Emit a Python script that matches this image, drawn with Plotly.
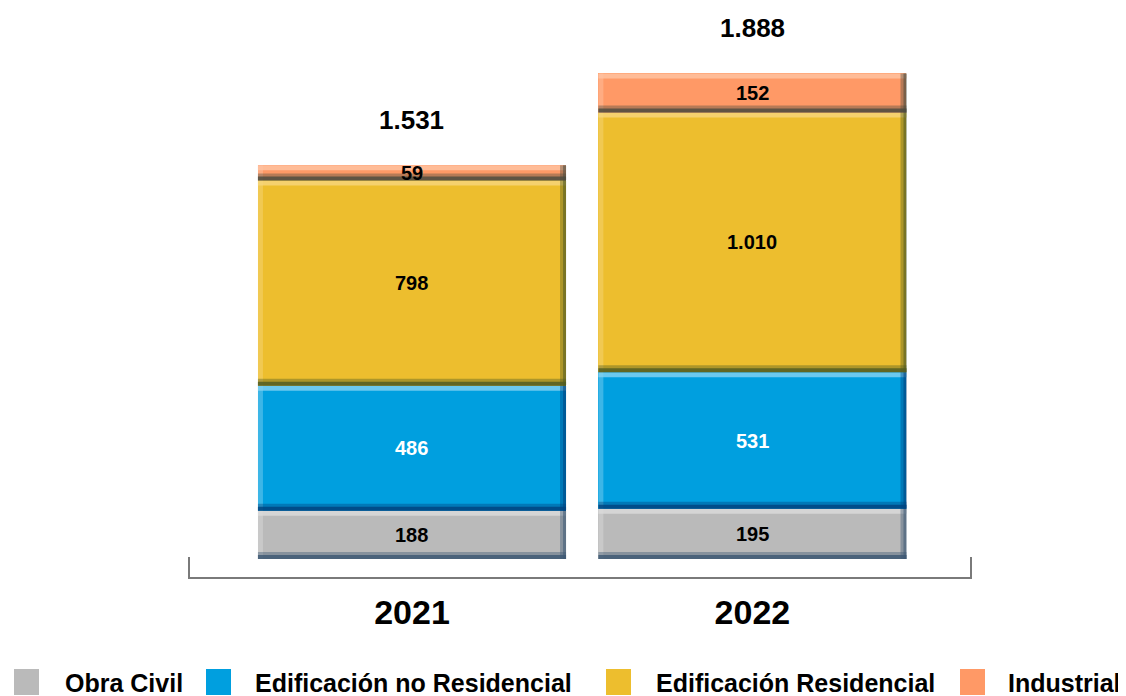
import plotly.graph_objects as go

# ---- data ----
years = ["2021", "2022"]
series_names = ["Obra Civil", "Edificación no Residencial", "Edificación Residencial", "Industrial"]
obra_civil = [188, 195]
edif_no_res = [486, 531]
edif_res = [798, 1010]
industrial = [59, 152]
totals = [1531, 1888]

series_values = [obra_civil, edif_no_res, edif_res, industrial]
colors = ["#BABABA", "#009FDF", "#EDBE2E", "#FF9966"]
light = ["#DCDCDC", "#86D3F2", "#F6D67E", "#FFC4A4"]
dark = ["#3C5873", "#00427E", "#4E5A22", "#4A4A3E"]
text_colors = ["#000000", "#FFFFFF", "#000000", "#000000"]

FONT = "Arial, Liberation Sans, sans-serif"


def fmt(v):
    return f"{v:,}".replace(",", ".")


OFF = 8  # page body margin
W, H = 1126 - OFF, 696 - OFF
L, T = 189 - OFF, 20 - OFF
R = W - (971 - OFF)
B = H - (559 - OFF)
PW, PH = W - L - R, H - T - B
BAR_W = 0.905


def xp(px):
    return (px - OFF - L) / PW


def yp(py):
    return (H - B - (py - OFF)) / PH


fig = go.Figure()
for name, vals, c in zip(series_names, series_values, colors):
    fig.add_trace(go.Bar(
        x=years, y=vals, name=name, marker=dict(color=c, line=dict(width=0)),
        hoverinfo="skip", showlegend=False,
    ))

shapes = []
annotations = []
# bevel decoration and value labels for each segment, anchored on data values
for i in range(len(years)):
    base = 0
    for s, vals in enumerate(series_values):
        top = base + vals[i]
        xl, xr = i - BAR_W / 2, i + BAR_W / 2
        shapes.append(dict(type="rect", xref="x", yref="y", x0=xl, x1=xr,
                           ysizemode="pixel", yanchor=top, y0=0, y1=-5,
                           fillcolor=light[s], opacity=0.8, line=dict(width=0), layer="above"))
        shapes.append(dict(type="rect", xref="x", yref="y", xsizemode="pixel", xanchor=xl,
                           x0=0, x1=5, y0=base, y1=top,
                           fillcolor=light[s], opacity=0.45, line=dict(width=0), layer="above"))
        shapes.append(dict(type="rect", xref="x", yref="y", xsizemode="pixel", xanchor=xr,
                           x0=-6, x1=0, y0=base, y1=top,
                           fillcolor=dark[s], opacity=0.4, line=dict(width=0), layer="above"))
        shapes.append(dict(type="rect", xref="x", yref="y", xsizemode="pixel", xanchor=xr,
                           x0=-3, x1=0, y0=base, y1=top,
                           fillcolor=dark[s], opacity=0.55, line=dict(width=0), layer="above"))
        shapes.append(dict(type="rect", xref="x", yref="y", x0=xl, x1=xr,
                           ysizemode="pixel", yanchor=base, y0=0, y1=7,
                           fillcolor=dark[s], opacity=0.4, line=dict(width=0), layer="above"))
        shapes.append(dict(type="rect", xref="x", yref="y", x0=xl, x1=xr,
                           ysizemode="pixel", yanchor=base, y0=0, y1=4,
                           fillcolor=dark[s], opacity=0.8, line=dict(width=0), layer="above"))
        annotations.append(dict(x=i, y=base + vals[i] / 2, xref="x", yref="y", text=fmt(vals[i]),
                                showarrow=False, xanchor="center", yanchor="middle",
                                font=dict(family=FONT, size=20, color=text_colors[s], weight="bold")))
        base = top

# bracket under bars
shapes.append(dict(type="path", xref="paper", yref="paper",
                   path=f"M {xp(189)},{yp(557)} L {xp(189)},{yp(578)} L {xp(971)},{yp(578)} L {xp(971)},{yp(557)}",
                   line=dict(color="#7A7A7A", width=2)))

for i, t in enumerate(totals):
    annotations.append(dict(x=i, y=t, xref="x", yref="y", text=fmt(t), showarrow=False,
                            xanchor="center", yanchor="middle", yshift=45,
                            font=dict(family=FONT, size=26, color="#000000", weight="bold")))

# custom legend
legend_sq = [14, 206, 606, 960]
legend_tx = [63, 253, 654, 1006]
for name, c, sx, tx in zip(series_names, colors, legend_sq, legend_tx):
    shapes.append(dict(type="rect", xref="paper", yref="paper", x0=xp(sx), x1=xp(sx + 25),
                       y0=yp(669), y1=yp(695), fillcolor=c, line=dict(width=0)))
    annotations.append(dict(x=xp(tx), y=yp(683), xref="paper", yref="paper", text=name,
                            showarrow=False, xanchor="left", yanchor="middle",
                            font=dict(family=FONT, size=25, color="#000000", weight="bold")))

fig.update_layout(
    barmode="stack", bargap=1 - BAR_W,
    width=W, height=H, margin=dict(l=L, r=R, t=T, b=B),
    paper_bgcolor="white", plot_bgcolor="white",
    xaxis=dict(type="category", range=[-0.655, 1.642], showgrid=False, showline=False,
               zeroline=False, ticks="", ticklabelstandoff=30,
               tickfont=dict(family=FONT, size=34, color="#000000", weight="bold")),
    yaxis=dict(range=[0, 2096], visible=False, showgrid=False, zeroline=False),
    shapes=shapes, annotations=annotations, showlegend=False,
)

fig.write_html("out.html")
